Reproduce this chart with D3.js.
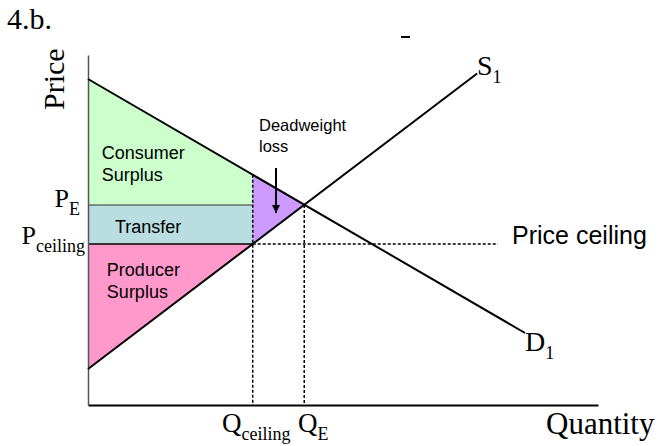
<!DOCTYPE html>
<html>
<head>
<meta charset="utf-8">
<script src="https://cdn.jsdelivr.net/npm/d3@7"></script>
<style>
  body { margin: 0; background: #fff; }
  svg { display: block; }
</style>
</head>
<body>
<div id="chart"></div>
<script>
// DATA (abstract price / quantity units)
// ======================================================== //
const demandQ = [0, 8.57];
const demandP = [6.52, 1.44];
const supplyQ = [0, 7.63];
const supplyP = [0.72, 6.63];

const eqQ = 4.24;          // Q_E
const eqP = 4.0;           // P_E
const ceilingQ = 3.23;     // Q_ceiling
const ceilingP = 3.22;     // P_ceiling
const ceilingLineEnd = 8.04;

const areaLabels = [
    { lines: ["Consumer", "Surplus"], q: 0.27, p: 4.93 },
    { lines: ["Transfer"], q: 0.53, p: 3.44 },
    { lines: ["Producer", "Surplus"], q: 0.37, p: 2.58 },
];
// ======================================================== //

const width = 662
const height = 446
const margin = ({ top: 55, right: 64, bottom: 41, left: 88 })

const x = d3.scaleLinear()
    .domain([0, 10])
    .range([margin.left, width - margin.right])

const y = d3.scaleLinear()
    .domain([0, 7])
    .range([height - margin.bottom, margin.top])

// demand curve as a function of quantity
const demand = d3.scaleLinear().domain(demandQ).range(demandP)

const colors = {
    consumer: "#ccffcc",
    transfer: "#b9dde0",
    producer: "#ff99cc",
    deadweight: "#cc99ff",
}

const svg = d3.select("#chart")
    .append("svg")
    .attr("width", width)
    .attr("height", height)

const poly = (pts, fill) => svg.append("polygon")
    .attr("points", pts.map(d => [x(d[0]), y(d[1])].join(",")).join(" "))
    .attr("fill", fill)

// shaded areas
poly([[0, demandP[0]], [ceilingQ, demand(ceilingQ)], [ceilingQ, eqP], [0, eqP]], colors.consumer)
poly([[0, eqP], [ceilingQ, eqP], [ceilingQ, ceilingP], [0, ceilingP]], colors.transfer)
poly([[0, ceilingP], [ceilingQ, ceilingP], [0, supplyP[0]]], colors.producer)
poly([[ceilingQ, demand(ceilingQ)], [eqQ, eqP], [ceilingQ, ceilingP]], colors.deadweight)

// solid separators
const seg = (q1, p1, q2, p2) => svg.append("line")
    .attr("x1", x(q1)).attr("y1", y(p1))
    .attr("x2", x(q2)).attr("y2", y(p2))
    .attr("stroke", "#000")

seg(0, eqP, ceilingQ, eqP).attr("stroke", "#333").attr("stroke-width", 1)
seg(0, ceilingP, ceilingQ, ceilingP).attr("stroke-width", 1.5)

// dashed guides
const dashed = (q1, p1, q2, p2) => seg(q1, p1, q2, p2)
    .attr("stroke-width", 1.5)
    .attr("stroke-dasharray", "3,2")

dashed(ceilingQ, ceilingP, ceilingLineEnd, ceilingP)
dashed(ceilingQ, demand(ceilingQ), ceilingQ, 0)
dashed(eqQ, eqP, eqQ, 0)

// axes (no ticks, just the lines)
svg.append("g")
    .attr("transform", `translate(0,${y(0)})`)
    .call(d3.axisBottom(x).tickValues([]).tickSizeOuter(0))
    .call(g => g.select(".domain").attr("stroke", "#000").attr("stroke-width", 2))

svg.append("g")
    .attr("transform", `translate(${x(0)},0)`)
    .call(d3.axisLeft(y).tickValues([]).tickSizeOuter(0))
    .call(g => g.select(".domain").attr("stroke", "#555").attr("stroke-width", 1.5))

// demand and supply
const line = d3.line().x(d => x(d[0])).y(d => y(d[1]))
svg.append("path")
    .attr("d", line(d3.zip(demandQ, demandP)))
    .attr("fill", "none").attr("stroke", "#000").attr("stroke-width", 2)
svg.append("path")
    .attr("d", line(d3.zip(supplyQ, supplyP)))
    .attr("fill", "none").attr("stroke", "#000").attr("stroke-width", 2)

// TEXT
const serif = "'Liberation Serif', 'Times New Roman', serif"
const sans = "'Liberation Sans', Arial, sans-serif"

svg.append("text")
    .attr("x", 7).attr("y", 29)
    .attr("font-family", serif).attr("font-size", 30)
    .text("4.b.")

// remnant mark near the top
svg.append("rect")
    .attr("x", 401).attr("y", 36).attr("width", 9).attr("height", 2)
    .attr("fill", "#000")

svg.append("text")
    .attr("transform", "translate(64,110) rotate(-90)")
    .attr("font-family", serif).attr("font-size", 30)
    .text("Price")

svg.append("text")
    .attr("x", 546).attr("y", 434)
    .attr("font-family", serif).attr("font-size", 31)
    .text("Quantity")

const subLabel = (main, sub, xx, yy, anchor, size, subSize) => {
    const t = svg.append("text")
        .attr("x", xx).attr("y", yy)
        .attr("text-anchor", anchor)
        .attr("font-family", serif).attr("font-size", size)
    t.append("tspan").text(main)
    t.append("tspan").attr("font-size", subSize).attr("dy", 8).text(sub)
    return t
}

subLabel("P", "E", 80, y(eqP) + 2, "end", 26, 18)
subLabel("P", "ceiling", 85, y(ceilingP), "end", 26, 18)
subLabel("Q", "ceiling", 222, y(0) + 27, "start", 27, 18)
subLabel("Q", "E", 298, y(0) + 27, "start", 27, 18)
subLabel("S", "1", 477, 75, "start", 28, 18)
subLabel("D", "1", 525, 351, "start", 28, 18)

svg.append("text")
    .attr("x", x(ceilingLineEnd) + 14).attr("y", y(ceilingP))
    .attr("font-family", sans).attr("font-size", 25)
    .text("Price ceiling")

areaLabels.forEach(l => {
    const t = svg.append("text")
        .attr("font-family", sans).attr("font-size", 18)
    l.lines.forEach((s, i) => t.append("tspan")
        .attr("x", x(l.q)).attr("y", y(l.p) + i * 22)
        .text(s))
})

// deadweight loss note + arrow
svg.append("text")
    .attr("font-family", sans).attr("font-size", 16.5)
    .selectAll("tspan")
    .data(["Deadweight", "loss"])
    .join("tspan")
    .attr("x", 259)
    .attr("y", (d, i) => 131 + i * 21)
    .text(d => d)

svg.append("defs").append("marker")
    .attr("id", "head")
    .attr("viewBox", "0 0 10 10")
    .attr("refX", 10).attr("refY", 5)
    .attr("markerWidth", 4).attr("markerHeight", 4)
    .attr("orient", "auto")
    .append("path").attr("d", "M0,0L10,5L0,10z").attr("fill", "#000")

svg.append("line")
    .attr("x1", 276).attr("y1", 168)
    .attr("x2", 276).attr("y2", 213)
    .attr("stroke", "#000").attr("stroke-width", 2)
    .attr("marker-end", "url(#head)")
</script>
</body>
</html>
